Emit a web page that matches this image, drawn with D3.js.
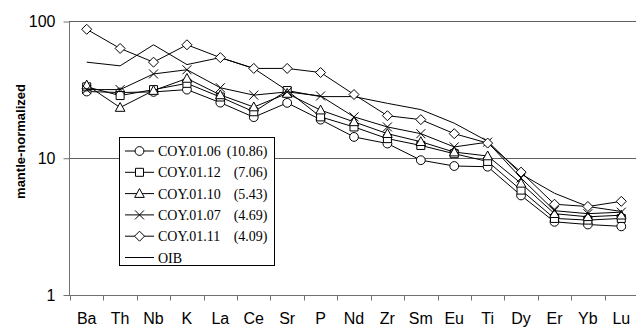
<!DOCTYPE html>
<html>
<head>
<meta charset="utf-8">
<script src="https://cdn.jsdelivr.net/npm/d3@7"></script>
<style>
  body { margin: 0; background: #fff; }
  svg { display: block; }
</style>
</head>
<body>
<div id="chart"></div>
<script>
// element order along the x axis
const elements = ['Ba', 'Th', 'Nb', 'K', 'La', 'Ce', 'Sr', 'P', 'Nd', 'Zr', 'Sm', 'Eu', 'Ti', 'Dy', 'Er', 'Yb', 'Lu'];

// mantle-normalized values
const coy0106 = [30.5, 30, 30.3, 31.5, 25.3, 19.8, 25.2, 19, 14.2, 12.7, 9.6, 8.7, 8.6, 5.3, 3.4, 3.25, 3.15];
const coy0112 = [33, 28.5, 31.5, 35, 27.8, 21.7, 31, 19.9, 16.8, 13.8, 12.3, 10.7, 9.4, 5.8, 3.6, 3.5, 3.6];
const coy0110 = [34, 23.3, 31, 38, 28.8, 23.5, 29.5, 22.3, 18.3, 15, 13.1, 11, 10.3, 6.5, 3.9, 3.7, 3.8];
const coy0107 = [31.5, 31.5, 41, 44, 32.5, 28.7, 30.3, 28.3, 19.9, 16.8, 15, 12, 13, 7.1, 4.1, 3.9, 4.0];
const coy0111 = [87, 63, 50, 67, 54, 45, 45, 42, 29, 20.3, 19, 15, 12.8, 7.85, 4.57, 4.4, 4.8];
const oib = [50, 47, 67, 48, 54, 45, 31, 28, 28, 25, 22.5, 17.9, 13.2, 7.6, 5.5, 4.4, 4.05];

const yTicks = [1, 10, 100];
const gridValues = [10, 100];

const series = [
  { name: 'COY.01.06', note: '(10.86)', values: coy0106, marker: 'circle' },
  { name: 'COY.01.12', note: '(7.06)', values: coy0112, marker: 'square' },
  { name: 'COY.01.10', note: '(5.43)', values: coy0110, marker: 'triangle' },
  { name: 'COY.01.07', note: '(4.69)', values: coy0107, marker: 'cross' },
  { name: 'COY.01.11', note: '(4.09)', values: coy0111, marker: 'diamond' },
  { name: 'OIB', note: '', values: oib, marker: null }
];

const width = 636;
const height = 327;
const plot = { left: 70, right: 638, top: 21, bottom: 294.5 };

/* Marker outlines, centred on 0,0. */
function markerPath(type) {
  switch (type) {
    case 'circle':
      return 'M4.4,0A4.4,4.4 0 1,1 -4.4,0A4.4,4.4 0 1,1 4.4,0Z';
    case 'square':
      return 'M-4,-4H4V4H-4Z';
    case 'triangle':
      return 'M0,-5L4.8,3.8H-4.8Z';
    case 'cross':
      return 'M-4.5,-4.5L4.5,4.5M4.5,-4.5L-4.5,4.5';
    case 'diamond':
      return 'M0,-5L5,0L0,5L-5,0Z';
    default:
      return '';
  }
}

const svg = d3.select('#chart').append('svg')
  .attr('width', width)
  .attr('height', height);

const x = d3.scaleBand()
  .domain(elements)
  .range([plot.left, plot.right])
  .padding(0);

const y = d3.scaleLog()
  .domain([1, 100])
  .range([plot.bottom, plot.top]);

const cx = (d) => x(d) + x.bandwidth() / 2;

// gridlines at 10 and 100
svg.append('g')
  .selectAll('line')
  .data(gridValues)
  .enter()
  .append('line')
  .attr('x1', plot.left - 1)
  .attr('x2', width)
  .attr('y1', (d) => Math.round(y(d)) + 0.5)
  .attr('y2', (d) => Math.round(y(d)) + 0.5)
  .attr('stroke', '#606060')
  .attr('stroke-width', 1);

// y axis
const gY = svg.append('g')
  .attr('transform', `translate(${plot.left - 0.5}, 0.5)`)
  .call(d3.axisLeft(y).tickValues(yTicks).tickFormat(d3.format('d')).tickSize(6).tickPadding(8));
gY.select('.domain').attr('stroke', '#707070').attr('d', `M0,${plot.bottom}V${plot.top}`);
gY.selectAll('.tick line').attr('stroke', '#707070');
gY.selectAll('.tick text')
  .attr('font-family', 'Liberation Sans, Arial, sans-serif')
  .attr('font-size', 16)
  .attr('fill', '#000');

// x axis line with ticks at category boundaries
const axisY = Math.round(plot.bottom) + 0.5;
const gX = svg.append('g');
gX.append('line')
  .attr('x1', plot.left - 1)
  .attr('x2', width)
  .attr('y1', axisY)
  .attr('y2', axisY)
  .attr('stroke', '#707070');
gX.selectAll('.xtick')
  .data(elements)
  .enter()
  .append('line')
  .attr('class', 'xtick')
  .attr('x1', (d) => Math.round(x(d)) + 0.5)
  .attr('x2', (d) => Math.round(x(d)) + 0.5)
  .attr('y1', axisY)
  .attr('y2', axisY + 5)
  .attr('stroke', '#707070');
gX.selectAll('.xlabel')
  .data(elements)
  .enter()
  .append('text')
  .attr('class', 'xlabel')
  .attr('x', cx)
  .attr('y', 324)
  .attr('text-anchor', 'middle')
  .attr('font-family', 'Liberation Sans, Arial, sans-serif')
  .attr('font-size', 16)
  .text((d) => d);

// y axis title
svg.append('text')
  .attr('transform', 'translate(25, 141.5) rotate(-90)')
  .attr('text-anchor', 'middle')
  .attr('font-family', 'Liberation Sans, Arial, sans-serif')
  .attr('font-weight', 'bold')
  .attr('font-size', 13)
  .text('mantle-normalized');

// series: line first, then open markers on top
const line = d3.line()
  .x((d, i) => cx(elements[i]))
  .y((d) => y(d));

const drawOrder = [5, 0, 1, 2, 3, 4];
drawOrder.forEach((k) => {
  const s = series[k];
  const g = svg.append('g').attr('class', 'series');
  g.append('path')
    .datum(s.values)
    .attr('d', line)
    .attr('fill', 'none')
    .attr('stroke', '#000')
    .attr('stroke-width', 1);
  if (s.marker) {
    g.selectAll('.marker')
      .data(s.values)
      .enter()
      .append('path')
      .attr('class', 'marker')
      .attr('transform', (d, i) => `translate(${cx(elements[i])}, ${y(d)})`)
      .attr('d', markerPath(s.marker))
      .attr('fill', s.marker === 'cross' ? 'none' : '#fff')
      .attr('stroke', '#000')
      .attr('stroke-width', 1);
  }
});

// legend
const legend = svg.append('g').attr('transform', 'translate(119.5, 137.5)');
legend.append('rect')
  .attr('width', 155)
  .attr('height', 128)
  .attr('fill', '#fff')
  .attr('stroke', '#000');

const rows = legend.selectAll('.row')
  .data(series)
  .enter()
  .append('g')
  .attr('class', 'row')
  .attr('transform', (d, i) => `translate(0, ${13.5 + i * 21.3})`);
rows.append('line')
  .attr('x1', 5.5)
  .attr('x2', 34.5)
  .attr('stroke', '#000');
rows.filter((d) => d.marker)
  .append('path')
  .attr('transform', 'translate(20, 0)')
  .attr('d', (d) => markerPath(d.marker))
  .attr('fill', (d) => d.marker === 'cross' ? 'none' : '#fff')
  .attr('stroke', '#000');
rows.append('text')
  .attr('x', 38.5)
  .attr('y', 5)
  .attr('font-family', 'Liberation Serif, Times New Roman, serif')
  .attr('font-size', 14)
  .text((d) => d.name);
rows.append('text')
  .attr('x', 148)
  .attr('y', 5)
  .attr('text-anchor', 'end')
  .attr('font-family', 'Liberation Serif, Times New Roman, serif')
  .attr('font-size', 14)
  .text((d) => d.note);
</script>
</body>
</html>
